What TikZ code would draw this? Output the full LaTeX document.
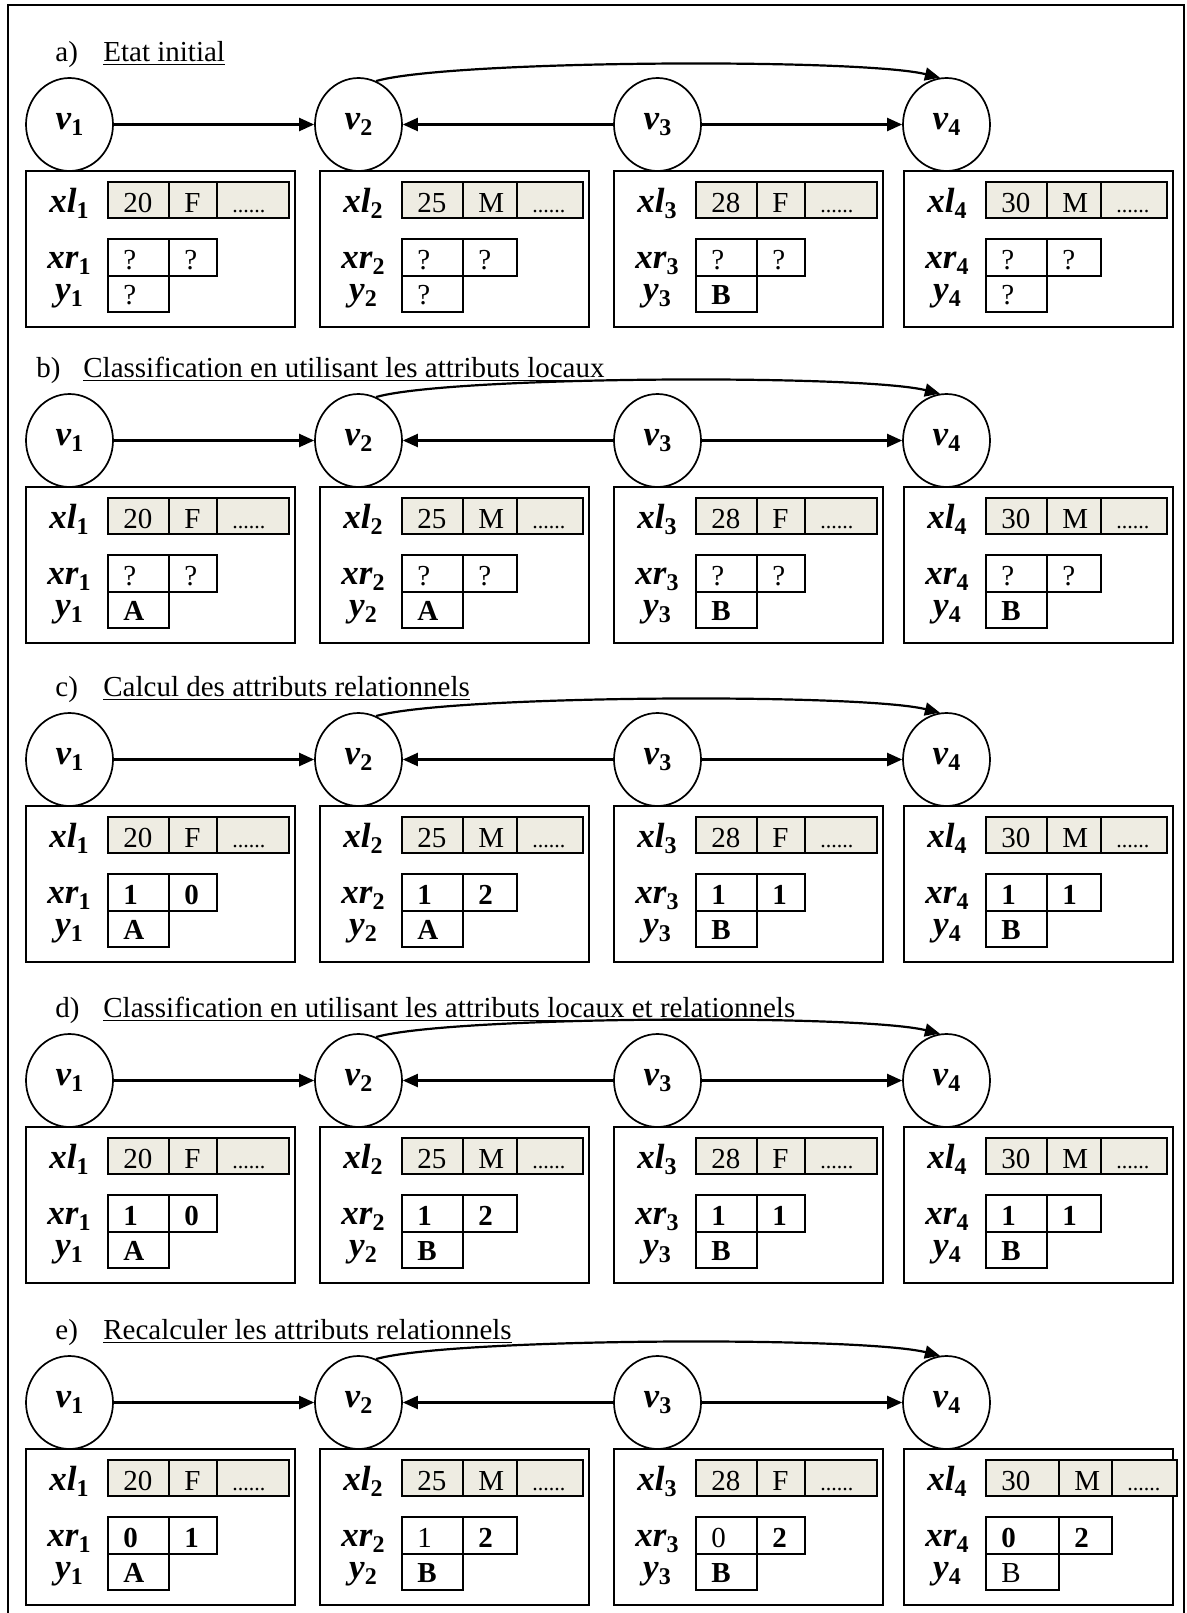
\documentclass[tikz,border=0pt]{standalone}
\usepackage{fontspec}
\setmainfont{Liberation Serif}
\usetikzlibrary{shapes.geometric,arrows.meta}
\definecolor{cellgray}{RGB}{238,236,226}
\newcommand\lab[2]{{\fontsize{17.5pt}{20pt}\selectfont\bfseries\itshape #1}\raisebox{-3pt}{\fontsize{12pt}{14pt}\selectfont\bfseries #2}}
\newcommand\dotsfill{{\fontsize{11pt}{13pt}\selectfont ......}}
% #1 id, #2 L, #3 idx, #4 w1, #5 w2, #6 w3, #7 age, #8 sex
\newcommand\infobox[8]{%
  \draw[boxline] (#2,171) rectangle (#2+269,327);
  \node[lbl] (#1-lxl) at (#2+43,212) {\lab{xl}{#3}};
  \node[lbl] (#1-lxr) at (#2+43,268) {\lab{xr}{#3}};
  \node[lbl] (#1-ly) at (#2+43,300) {\lab{y}{#3}};
  \draw[cellline,fill=cellgray] (#2+82,182) rectangle ++(#4+#5+#6,36);
  \draw[cellline] (#2+82+#4,182) -- ++(0,36) (#2+82+#4+#5,182) -- ++(0,36);
  \node[val] (#1-age) at (#2+97,212) {#7};
  \node[val] (#1-sex) at (#2+97+#4,212) {#8};
  \node[val] (#1-dots) at (#2+97+#4+#5,212) {\dotsfill};
}
% #1 id, #2 L, #3 w1, #4 w2, #5 xr a, #6 xr b, #7 y
\newcommand\relrow[7]{%
  \draw[cellline] (#2+82,239) rectangle ++(#3+#4,37);
  \draw[cellline] (#2+82+#3,239) -- ++(0,37);
  \draw[cellline] (#2+82,276) rectangle ++(#3,36);
  \node[val] (#1-xra) at (#2+97,269) {#5};
  \node[val] (#1-xrb) at (#2+97+#3,269) {#6};
  \node[val] (#1-y) at (#2+97,304) {#7};
}
\newcommand\vnodes[1]{%
  \node[vert] (#1-v1) at (69.5,124.5) {\lab{v}{1}};
  \node[vert] (#1-v2) at (358.5,124.5) {\lab{v}{2}};
  \node[vert] (#1-v3) at (657.5,124.5) {\lab{v}{3}};
  \node[vert] (#1-v4) at (946.5,124.5) {\lab{v}{4}};
  \draw[arr] (#1-v1) -- (#1-v2);
  \draw[arr] (#1-v3) -- (#1-v2);
  \draw[arr] (#1-v3) -- (#1-v4);
  \draw[arr] (#1-v2.68) .. controls (450,60) and (860,58) .. (#1-v4.98);
}
\newcommand\ptitle[5]{% id, xlabel, label, xtext, text
  \node[val] (#1-lbl) at (#2,61) {#3};
  \node[val] (#1-ttl) at (#4,61) {\underline{#5}};
}
\begin{document}
\begin{tikzpicture}[x=0.5pt,y=-0.5pt,
  font=\fontsize{14.5pt}{17pt}\selectfont,
  lbl/.style={anchor=base,inner sep=0pt},
  val/.style={anchor=base west,inner sep=0pt},
  vert/.style={draw,ellipse,minimum width=43.5pt,minimum height=46.5pt,inner sep=0pt,line width=0.85pt},
  arr/.style={-{Triangle[length=7.5pt,width=6.5pt]},line width=1.1pt},
  boxline/.style={line width=1.1pt},
  cellline/.style={line width=1pt}]
\useasboundingbox (0,0) rectangle (1187,1613);
\draw[line width=1pt] (8,1613) -- (8,5) -- (1184,5) -- (1184,1613);
% a
\begin{scope}
  \ptitle{a}{55}{a)}{103}{Etat initial}
  \vnodes{a}
  \infobox{a1}{26}{1}{61}{48}{72}{20}{F}
  \infobox{a2}{320}{2}{61}{54}{66}{25}{M}
  \infobox{a3}{614}{3}{61}{48}{72}{28}{F}
  \infobox{a4}{904}{4}{61}{54}{66}{30}{M}
  \relrow{a1}{26}{61}{48}{?}{?}{?}
  \relrow{a2}{320}{61}{54}{?}{?}{?}
  \relrow{a3}{614}{61}{48}{?}{?}{\textbf{B}}
  \relrow{a4}{904}{61}{54}{?}{?}{?}
\end{scope}
% b
\begin{scope}[shift={(0,316)}]
  \ptitle{b}{36}{b)}{83}{Classification en utilisant les attributs locaux}
  \vnodes{b}
  \infobox{b1}{26}{1}{61}{48}{72}{20}{F}
  \infobox{b2}{320}{2}{61}{54}{66}{25}{M}
  \infobox{b3}{614}{3}{61}{48}{72}{28}{F}
  \infobox{b4}{904}{4}{61}{54}{66}{30}{M}
  \relrow{b1}{26}{61}{48}{?}{?}{\textbf{A}}
  \relrow{b2}{320}{61}{54}{?}{?}{\textbf{A}}
  \relrow{b3}{614}{61}{48}{?}{?}{\textbf{B}}
  \relrow{b4}{904}{61}{54}{?}{?}{\textbf{B}}
\end{scope}
% c
\begin{scope}[shift={(0,635)}]
  \ptitle{c}{55}{c)}{103}{Calcul des attributs relationnels}
  \vnodes{c}
  \infobox{c1}{26}{1}{61}{48}{72}{20}{F}
  \infobox{c2}{320}{2}{61}{54}{66}{25}{M}
  \infobox{c3}{614}{3}{61}{48}{72}{28}{F}
  \infobox{c4}{904}{4}{61}{54}{66}{30}{M}
  \relrow{c1}{26}{61}{48}{\textbf{1}}{\textbf{0}}{\textbf{A}}
  \relrow{c2}{320}{61}{54}{\textbf{1}}{\textbf{2}}{\textbf{A}}
  \relrow{c3}{614}{61}{48}{\textbf{1}}{\textbf{1}}{\textbf{B}}
  \relrow{c4}{904}{61}{54}{\textbf{1}}{\textbf{1}}{\textbf{B}}
\end{scope}
% d
\begin{scope}[shift={(0,956)}]
  \ptitle{d}{55}{d)}{103}{Classification en utilisant les attributs locaux et relationnels}
  \vnodes{d}
  \infobox{d1}{26}{1}{61}{48}{72}{20}{F}
  \infobox{d2}{320}{2}{61}{54}{66}{25}{M}
  \infobox{d3}{614}{3}{61}{48}{72}{28}{F}
  \infobox{d4}{904}{4}{61}{54}{66}{30}{M}
  \relrow{d1}{26}{61}{48}{\textbf{1}}{\textbf{0}}{\textbf{A}}
  \relrow{d2}{320}{61}{54}{\textbf{1}}{\textbf{2}}{\textbf{B}}
  \relrow{d3}{614}{61}{48}{\textbf{1}}{\textbf{1}}{\textbf{B}}
  \relrow{d4}{904}{61}{54}{\textbf{1}}{\textbf{1}}{\textbf{B}}
\end{scope}
% e
\begin{scope}[shift={(0,1278)}]
  \ptitle{e}{55}{e)}{103}{Recalculer les attributs relationnels}
  \vnodes{e}
  \infobox{e1}{26}{1}{61}{48}{72}{20}{F}
  \infobox{e2}{320}{2}{61}{54}{66}{25}{M}
  \infobox{e3}{614}{3}{61}{48}{72}{28}{F}
  \infobox{e4}{904}{4}{73}{53}{65}{30}{M}
  \relrow{e1}{26}{61}{48}{\textbf{0}}{\textbf{1}}{\textbf{A}}
  \relrow{e2}{320}{61}{54}{1}{\textbf{2}}{\textbf{B}}
  \relrow{e3}{614}{61}{48}{0}{\textbf{2}}{\textbf{B}}
  \relrow{e4}{904}{73}{53}{\textbf{0}}{\textbf{2}}{B}
\end{scope}
\end{tikzpicture}
\end{document}
